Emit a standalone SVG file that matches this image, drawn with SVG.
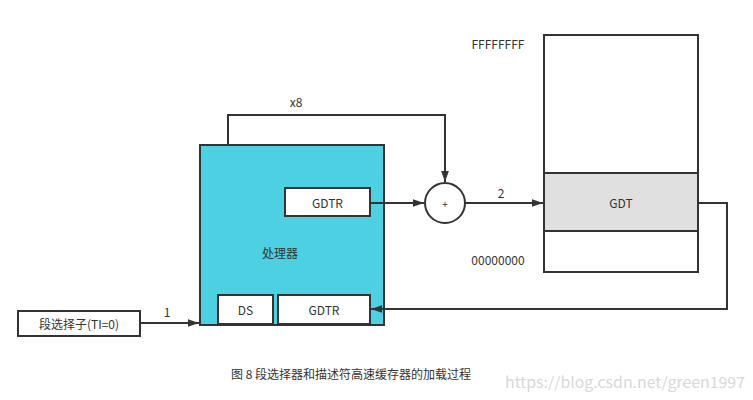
<svg xmlns="http://www.w3.org/2000/svg" width="753" height="400" viewBox="0 0 753 400">
<style>
text{font-family:"Noto Sans CJK SC","Open Sans",sans-serif;font-size:12px;fill:#333;text-anchor:middle;dominant-baseline:central}
.box{stroke:#333;stroke-width:2}
.ln{fill:none;stroke:#333;stroke-width:2}
</style>
<defs>
<marker id="ah" viewBox="0 0 10 10" refX="10" refY="5" markerWidth="5.5" markerHeight="5.5" orient="auto" markerUnits="strokeWidth"><path d="M0,1.5 L10,5 L0,8.5 z" fill="#333"/></marker>
</defs>
<rect width="753" height="400" fill="#fff"/>
<g id="processor">
<rect class="box" x="200" y="145" width="184" height="180" fill="#4dd0e1"/>
<text x="280" y="252">处理器</text>
</g>
<g id="gdtr-top">
<rect class="box" x="285" y="188" width="85" height="28" fill="#fff"/>
<text x="327.5" y="202">GDTR</text>
</g>
<g id="ds">
<rect class="box" x="218" y="295" width="55" height="29" fill="#fff"/>
<text x="245.5" y="309.5">DS</text>
</g>
<g id="gdtr-bottom">
<rect class="box" x="278" y="295" width="92" height="29" fill="#fff"/>
<text x="324" y="309.5">GDTR</text>
</g>
<g id="adder">
<circle class="box" cx="445" cy="203" r="20" fill="#fff"/>
<text x="445" y="203" style="font-size:10px">+</text>
</g>
<g id="memory">
<rect class="box" x="544" y="35" width="154" height="237" fill="#fff"/>
<rect class="box" x="544" y="173" width="154" height="58" fill="#e0e0e0"/>
<text x="621" y="202">GDT</text>
<text x="498" y="43">FFFFFFFF</text>
<text x="498" y="259">00000000</text>
</g>
<g id="selector">
<rect class="box" x="18" y="311" width="122" height="25" fill="#fff"/>
<text x="79" y="323.5">段选择子(TI=0)</text>
</g>
<g id="connectors">
<path class="ln" d="M228,145 V115 H445 V182" marker-end="url(#ah)"/>
<text x="296" y="101">x8</text>
<path class="ln" d="M370,203 H424" marker-end="url(#ah)"/>
<path class="ln" d="M465,203 H543" marker-end="url(#ah)"/>
<text x="501" y="192">2</text>
<path class="ln" d="M698,203 H727 V309 H371" marker-end="url(#ah)"/>
<path class="ln" d="M140,323 H199" marker-end="url(#ah)"/>
<text x="167" y="311">1</text>
</g>
<text x="351" y="373">图 8 段选择器和描述符高速缓存器的加载过程</text>
<text x="625" y="381" textLength="240" lengthAdjust="spacingAndGlyphs" style="font-size:15px;fill:#d8d8d8">https://blog.csdn.net/green1997</text>
</svg>
